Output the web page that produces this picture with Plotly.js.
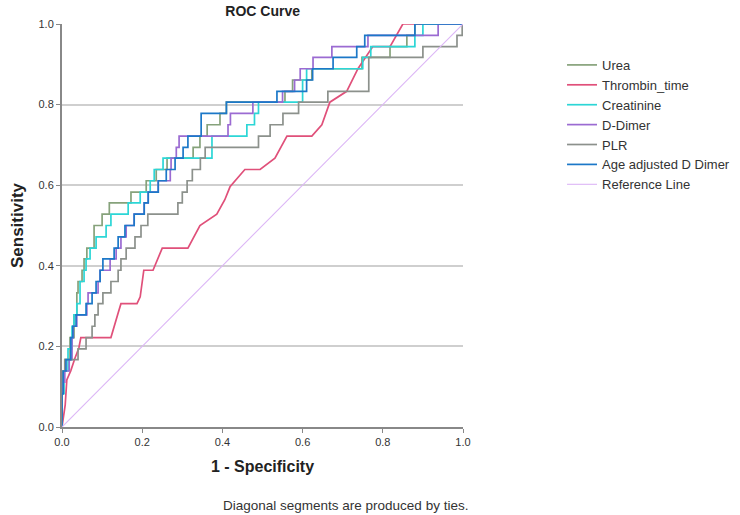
<!DOCTYPE html>
<html>
<head>
<meta charset="utf-8">
<script src="https://cdn.plot.ly/plotly-3.0.1.min.js"></script>
<style>html,body{margin:0;padding:0;background:#fff;}#chart{width:740px;height:515px;}</style>
</head>
<body>
<div id="chart"></div>
<script>
// Series names
const seriesNames = ["Urea", "Thrombin_time", "Creatinine", "D-Dimer", "PLR", "Age adjusted D Dimer", "Reference Line"];

// Step curves: each point = (1 - specificity where the step rises, new sensitivity level)
const ureaFpr = [0, 0, 0.007, 0.02, 0.03, 0.037, 0.04, 0.05, 0.055, 0.062, 0.08, 0.1, 0.118, 0.172, 0.21, 0.235, 0.262, 0.327, 0.344, 0.362, 0.394, 0.41, 0.556, 0.575, 0.623, 0.748, 0.818, 0.86, 0.88, 1];
const ureaTpr = [0, 0.139, 0.167, 0.222, 0.278, 0.333, 0.361, 0.389, 0.417, 0.444, 0.5, 0.528, 0.556, 0.583, 0.611, 0.639, 0.667, 0.694, 0.722, 0.75, 0.778, 0.806, 0.833, 0.861, 0.889, 0.917, 0.944, 0.972, 1.0, 1.0];

const creatFpr = [0, 0, 0.005, 0.015, 0.025, 0.03, 0.037, 0.045, 0.055, 0.06, 0.07, 0.085, 0.11, 0.122, 0.165, 0.195, 0.22, 0.23, 0.252, 0.374, 0.461, 0.48, 0.49, 0.6, 0.6, 0.61, 0.75, 0.77, 0.88, 0.9, 1];
const creatTpr = [0, 0.083, 0.139, 0.194, 0.25, 0.278, 0.306, 0.361, 0.389, 0.417, 0.444, 0.472, 0.5, 0.528, 0.556, 0.583, 0.611, 0.639, 0.667, 0.722, 0.75, 0.778, 0.806, 0.833, 0.861, 0.889, 0.917, 0.944, 0.972, 1.0, 1.0];

const ddimerFpr = [0, 0, 0.002, 0.007, 0.018, 0.025, 0.028, 0.037, 0.062, 0.065, 0.09, 0.095, 0.12, 0.135, 0.147, 0.16, 0.18, 0.205, 0.215, 0.24, 0.27, 0.272, 0.285, 0.292, 0.414, 0.42, 0.476, 0.55, 0.58, 0.594, 0.626, 0.673, 0.763, 0.938, 1];
const ddimerTpr = [0, 0.083, 0.111, 0.139, 0.167, 0.222, 0.25, 0.278, 0.306, 0.333, 0.361, 0.389, 0.417, 0.444, 0.472, 0.5, 0.528, 0.556, 0.583, 0.611, 0.639, 0.667, 0.694, 0.722, 0.75, 0.778, 0.806, 0.833, 0.861, 0.889, 0.917, 0.944, 0.972, 1.0, 1.0];

const plrFpr = [0, 0, 0.003, 0.007, 0.04, 0.06, 0.075, 0.082, 0.09, 0.102, 0.122, 0.14, 0.147, 0.16, 0.182, 0.197, 0.214, 0.289, 0.3, 0.312, 0.325, 0.345, 0.357, 0.49, 0.519, 0.551, 0.59, 0.663, 0.765, 0.9, 0.985, 0.998, 1];
const plrTpr = [0, 0.083, 0.139, 0.167, 0.194, 0.222, 0.25, 0.278, 0.306, 0.333, 0.361, 0.389, 0.417, 0.444, 0.472, 0.5, 0.528, 0.556, 0.583, 0.611, 0.639, 0.667, 0.694, 0.722, 0.75, 0.778, 0.806, 0.833, 0.917, 0.944, 0.972, 1.0, 1.0];

const ageFpr = [0, 0, 0.003, 0.01, 0.022, 0.027, 0.035, 0.06, 0.075, 0.085, 0.095, 0.102, 0.13, 0.14, 0.157, 0.18, 0.205, 0.215, 0.24, 0.26, 0.282, 0.302, 0.314, 0.347, 0.41, 0.536, 0.61, 0.625, 0.676, 0.735, 0.755, 0.88, 1];
const ageTpr = [0, 0.083, 0.139, 0.167, 0.222, 0.25, 0.278, 0.306, 0.333, 0.361, 0.389, 0.417, 0.444, 0.472, 0.5, 0.528, 0.556, 0.583, 0.611, 0.639, 0.667, 0.694, 0.722, 0.778, 0.806, 0.833, 0.861, 0.889, 0.917, 0.944, 0.972, 1.0, 1.0];

// Thrombin_time: traced vertices (includes diagonal tie segments)
const thrombFpr = [0, 0.005, 0.008, 0.012, 0.022, 0.032, 0.042, 0.047, 0.122, 0.14, 0.147, 0.187, 0.195, 0.204, 0.227, 0.25, 0.314, 0.344, 0.386, 0.406, 0.419, 0.456, 0.494, 0.531, 0.561, 0.623, 0.648, 0.668, 0.71, 0.738, 0.775, 0.818, 0.85, 1];
const thrombTpr = [0, 0.028, 0.055, 0.117, 0.14, 0.17, 0.196, 0.222, 0.222, 0.283, 0.306, 0.306, 0.323, 0.389, 0.389, 0.444, 0.444, 0.5, 0.528, 0.564, 0.596, 0.639, 0.639, 0.667, 0.722, 0.722, 0.75, 0.806, 0.833, 0.889, 0.944, 0.944, 1.0, 1.0];

const refX = [0, 1];
const refY = [0, 1];

const tickVals = [0, 0.2, 0.4, 0.6, 0.8, 1.0];
const tickText = ["0.0", "0.2", "0.4", "0.6", "0.8", "1.0"];

const colors = ["#86a27b", "#e0507a", "#2cd6d6", "#9b6bd2", "#8c918c", "#1c78c8", "#dcb6f6"];

const FONT = "Liberation Sans, Arial, sans-serif";

function stepTrace(x, y, name, color) {
  return {x: x, y: y, name: name, type: "scatter", mode: "lines",
          line: {shape: "hv", color: color, width: 1.7}, hoverinfo: "skip"};
}

const traces = [
  stepTrace(ureaFpr, ureaTpr, seriesNames[0], colors[0]),
  {x: thrombFpr, y: thrombTpr, name: seriesNames[1], type: "scatter", mode: "lines",
   line: {shape: "linear", color: colors[1], width: 1.7}},
  stepTrace(creatFpr, creatTpr, seriesNames[2], colors[2]),
  stepTrace(ddimerFpr, ddimerTpr, seriesNames[3], colors[3]),
  stepTrace(plrFpr, plrTpr, seriesNames[4], colors[4]),
  stepTrace(ageFpr, ageTpr, seriesNames[5], colors[5]),
  {x: refX, y: refY, name: seriesNames[6], type: "scatter", mode: "lines",
   line: {color: colors[6], width: 1.1}}
];

const layout = {
  width: 740, height: 515,
  paper_bgcolor: "#ffffff", plot_bgcolor: "#ffffff",
  margin: {l: 62, r: 277, t: 24, b: 88, autoexpand: false},
  font: {family: FONT, size: 11, color: "#333333"},
  title: {text: "<b>ROC Curve</b>", font: {family: FONT, size: 14, color: "#222222"},
          x: 0.355, xanchor: "center", y: 0.978, yanchor: "middle"},
  xaxis: {range: [0, 1], tickvals: tickVals, ticktext: tickText, showgrid: false, zeroline: false,
          showline: true, linecolor: "#888888", linewidth: 2, ticks: "outside", ticklen: 4, tickcolor: "#888888",
          tickfont: {family: FONT, size: 11, color: "#333333"}, fixedrange: true, automargin: false,
          title: {text: "<b>1 - Specificity</b>", font: {family: FONT, size: 16, color: "#222222"}, standoff: 14}},
  yaxis: {range: [0, 1], tickvals: tickVals, ticktext: tickText, showgrid: true, gridcolor: "#cfcfcf", gridwidth: 2,
          zeroline: false, showline: true, linecolor: "#888888", linewidth: 2, ticks: "outside", ticklen: 4, tickcolor: "#888888",
          tickfont: {family: FONT, size: 11, color: "#333333"}, fixedrange: true, automargin: false,
          title: {text: "<b>Sensitivity</b>", font: {family: FONT, size: 17, color: "#222222"}, standoff: 11}},
  showlegend: true,
  legend: {xref: "container", yref: "container", x: 0.7595, xanchor: "left", y: 0.903, yanchor: "top",
           bgcolor: "rgba(0,0,0,0)",
           font: {family: FONT, size: 13, color: "#333333"}, tracegroupgap: 0, itemwidth: 30},
  annotations: [{text: "Diagonal segments are produced by ties.", xref: "paper", yref: "paper",
                 x: 1.018, xanchor: "right", y: -0.194, yanchor: "middle", showarrow: false,
                 font: {family: FONT, size: 13.5, color: "#333333"}}]
};

Plotly.newPlot("chart", traces, layout, {displayModeBar: false, staticPlot: true});
</script>
</body>
</html>
